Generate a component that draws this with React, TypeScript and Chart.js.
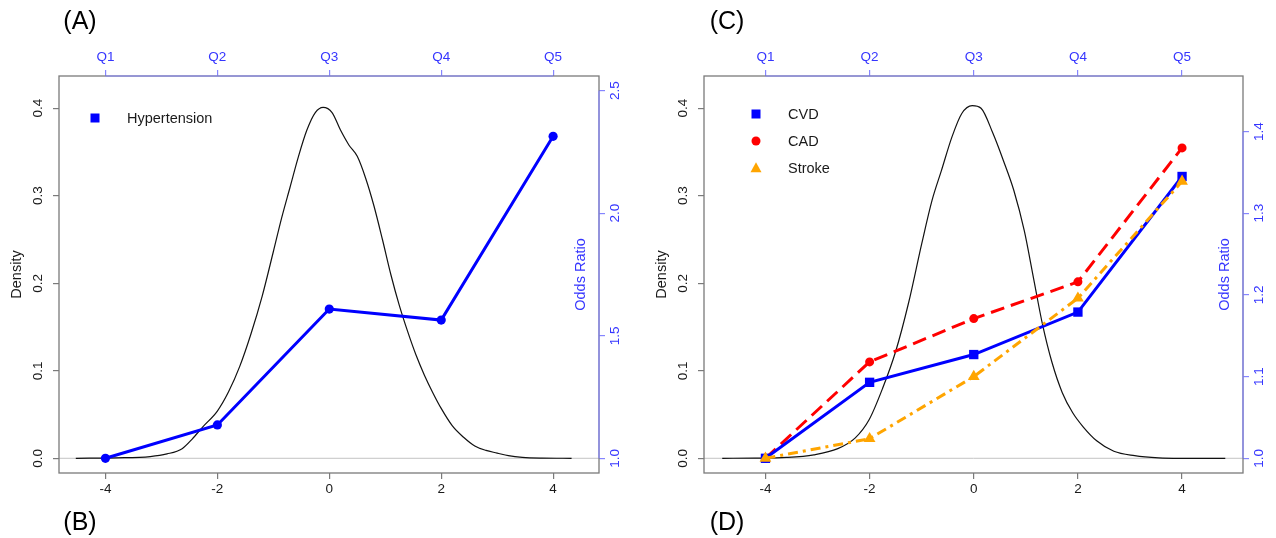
import React, { useEffect, useRef } from 'react';
import { Chart, registerables } from 'chart.js';

Chart.register(...registerables);

const FONT = '"Liberation Sans", Arial, Helvetica, sans-serif';
const AXIS_BLUE_TEXT = '#3535ff';
const AXIS_BLUE_LINE = '#8585ff';
const FRAME = '#7a7a7a';
const TICK_GREY = '#7a7a7a';
const TEXT = '#1a1a1a';

// ---- shared axes ----
const QUINTILE_LABELS = ['Q1', 'Q2', 'Q3', 'Q4', 'Q5'];
const QUINTILE_POS = [-4, -2, 0, 2, 4];
const X_TICKS = [-4, -2, 0, 2, 4];
const DENSITY_TICKS = [0, 0.1, 0.2, 0.3, 0.4];
const OR_TICKS_A = [1.0, 1.5, 2.0, 2.5];
const OR_TICKS_C = [1.0, 1.1, 1.2, 1.3, 1.4];

// ---- density curves ----
const DENS_A_X = [-4.53, -3.8, -3.2, -2.9, -2.63, -2.45, -2.26, -2.0, -1.8, -1.6, -1.4, -1.2, -1.0, -0.85, -0.7, -0.55, -0.4, -0.25, -0.11, 0.05, 0.2, 0.35, 0.5, 0.65, 0.8, 0.95, 1.1, 1.25, 1.4, 1.55, 1.7, 1.85, 2.0, 2.2, 2.4, 2.6, 2.8, 3.0, 3.2, 3.45, 3.8, 4.33];
const DENS_A_Y = [0, 0.0005, 0.002, 0.005, 0.011, 0.022, 0.036, 0.054, 0.076, 0.105, 0.142, 0.185, 0.236, 0.275, 0.31, 0.345, 0.375, 0.395, 0.401, 0.395, 0.375, 0.358, 0.345, 0.32, 0.288, 0.25, 0.21, 0.175, 0.145, 0.118, 0.095, 0.075, 0.057, 0.037, 0.024, 0.014, 0.009, 0.006, 0.003, 0.001, 0.0002, 0];

const DENS_C_X = [-4.83, -4.2, -3.6, -3.07, -2.61, -2.28, -2.01, -1.75, -1.5, -1.25, -1.0, -0.8, -0.62, -0.42, -0.23, -0.03, 0.14, 0.37, 0.57, 0.77, 0.97, 1.15, 1.32, 1.5, 1.7, 1.9, 2.1, 2.36, 2.69, 3.09, 3.55, 3.95, 4.83];
const DENS_C_Y = [0, 0.0002, 0.001, 0.004, 0.011, 0.023, 0.044, 0.08, 0.122, 0.178, 0.245, 0.295, 0.329, 0.367, 0.394, 0.403, 0.4, 0.371, 0.34, 0.306, 0.26, 0.205, 0.153, 0.11, 0.075, 0.052, 0.036, 0.02, 0.008, 0.003, 0.0005, 0, 0];

// ---- odds ratios by quintile ----
const OR_HYPERTENSION = [1.0, 1.136, 1.609, 1.564, 2.314];
const OR_CVD = [1.0, 1.093, 1.127, 1.179, 1.345];
const OR_CAD = [1.0, 1.118, 1.171, 1.216, 1.38];
const OR_STROKE = [1.0, 1.024, 1.1, 1.196, 1.339];

type Marker = 'rect' | 'circle' | 'triangle';

type Series = {
  label: string;
  values: number[];
  color: string;
  marker: Marker;
  radius: number;
  dash: number[];
  order: number;
  legendMarker: Marker;
  legendSize: number;
};

type PanelSpec = {
  width: number;
  areaLeft: number;
  areaRight: number;
  areaTop: number;
  areaBottom: number;
  xMin: number;
  xMax: number;
  dMin: number;
  dMax: number;
  orMin: number;
  orMax: number;
  orTicks: number[];
  densX: number[];
  densY: number[];
  series: Series[];
  legendDx: number;
  legendDy: number;
  legendGap: number;
  leftTickPad: number;
  rightTickPad: number;
  densTitlePad: number;
};

const HEIGHT = 538;

function drawMarker(ctx: CanvasRenderingContext2D, kind: Marker, x: number, y: number, size: number, color: string) {
  ctx.fillStyle = color;
  ctx.beginPath();
  if (kind === 'rect') {
    ctx.rect(x - size / 2, y - size / 2, size, size);
  } else if (kind === 'circle') {
    ctx.arc(x, y, size / 2, 0, Math.PI * 2);
  } else {
    const h = size * 0.9;
    ctx.moveTo(x, y - h * 0.58);
    ctx.lineTo(x + size / 2, y + h * 0.42);
    ctx.lineTo(x - size / 2, y + h * 0.42);
    ctx.closePath();
  }
  ctx.fill();
}

function makeFramePlugin(s: PanelSpec) {
  return {
    id: 'frame',
    beforeDatasetsDraw(chart: any) {
      const { ctx, chartArea: a, scales } = chart;
      const y0 = scales.yD.getPixelForValue(0);
      ctx.save();
      ctx.strokeStyle = '#c4c4c4';
      ctx.lineWidth = 1;
      ctx.beginPath();
      ctx.moveTo(a.left, y0);
      ctx.lineTo(a.right, y0);
      ctx.stroke();
      ctx.restore();
    },
    afterDraw(chart: any) {
      const { ctx, chartArea: a, scales } = chart;
      ctx.save();
      // frame box
      ctx.strokeStyle = FRAME;
      ctx.lineWidth = 1.3;
      ctx.strokeRect(a.left, a.top, a.right - a.left, a.bottom - a.top);
      // blue top axis line (Q1..Q5)
      const xq = scales.xq;
      ctx.strokeStyle = AXIS_BLUE_LINE;
      ctx.lineWidth = 1.2;
      ctx.beginPath();
      ctx.moveTo(xq.getPixelForValue(QUINTILE_POS[0]), a.top);
      ctx.lineTo(xq.getPixelForValue(QUINTILE_POS[QUINTILE_POS.length - 1]), a.top);
      ctx.stroke();
      // blue right axis line
      const yOR = scales.yOR;
      ctx.beginPath();
      ctx.moveTo(a.right, yOR.getPixelForValue(s.orTicks[0]));
      ctx.lineTo(a.right, yOR.getPixelForValue(s.orTicks[s.orTicks.length - 1]));
      ctx.stroke();
      // "Odds Ratio" title inside the frame, reading bottom to top
      ctx.translate(a.right - 18, (a.top + a.bottom) / 2);
      ctx.rotate(-Math.PI / 2);
      ctx.fillStyle = AXIS_BLUE_TEXT;
      ctx.font = `14.5px ${FONT}`;
      ctx.textAlign = 'center';
      ctx.textBaseline = 'middle';
      ctx.fillText('Odds Ratio', 0, 0);
      ctx.restore();

      // legend
      ctx.save();
      ctx.font = `14.5px ${FONT}`;
      ctx.textAlign = 'left';
      ctx.textBaseline = 'middle';
      s.series.forEach((ser, i) => {
        const mx = a.left + s.legendDx;
        const my = a.top + s.legendDy + i * s.legendGap;
        drawMarker(ctx, ser.legendMarker, mx, my, ser.legendSize, ser.color);
        ctx.fillStyle = TEXT;
        ctx.fillText(ser.label, mx + 32, my + 1);
      });
      ctx.restore();
    },
  };
}

function fixedTicks(values: number[]) {
  return (axis: any) => {
    axis.ticks = values.map((v) => ({ value: v }));
  };
}

function buildConfig(s: PanelSpec): any {
  const tickFont = { family: FONT, size: 13.5 };
  const datasets: any[] = s.series.map((ser) => ({
    label: ser.label,
    data: QUINTILE_POS.map((x, j) => ({ x, y: ser.values[j] })),
    xAxisID: 'x',
    yAxisID: 'yOR',
    borderColor: ser.color,
    backgroundColor: ser.color,
    borderWidth: 3,
    borderDash: ser.dash,
    borderCapStyle: 'butt',
    tension: 0,
    fill: false,
    pointStyle: ser.marker,
    pointRadius: ser.radius,
    pointBackgroundColor: ser.color,
    pointBorderColor: ser.color,
    pointBorderWidth: 0,
    order: ser.order,
  }));
  datasets.push({
    label: 'Density',
    data: s.densX.map((x, i) => ({ x, y: s.densY[i] })),
    xAxisID: 'x',
    yAxisID: 'yD',
    borderColor: '#111',
    borderWidth: 1.2,
    pointRadius: 0,
    tension: 0.3,
    cubicInterpolationMode: 'monotone',
    fill: false,
    order: 10,
  });

  const bottomH = HEIGHT - s.areaBottom;
  const rightW = s.width - s.areaRight;

  return {
    type: 'line',
    data: { datasets },
    plugins: [makeFramePlugin(s)],
    options: {
      animation: false,
      responsive: false,
      maintainAspectRatio: false,
      devicePixelRatio: 1,
      layout: { padding: 0 },
      events: [],
      plugins: { legend: { display: false }, tooltip: { enabled: false } },
      scales: {
        x: {
          type: 'linear',
          position: 'bottom',
          min: s.xMin,
          max: s.xMax,
          afterBuildTicks: fixedTicks(X_TICKS),
          afterFit: (ax: any) => {
            ax.height = bottomH;
          },
          ticks: {
            font: tickFont,
            color: TEXT,
            padding: 2,
            autoSkip: false,
            maxRotation: 0,
            callback: (v: any) => String(v),
          },
          grid: { drawOnChartArea: false, drawTicks: true, tickLength: 6, color: TICK_GREY, lineWidth: 1.2 },
          border: { display: false },
        },
        xq: {
          type: 'linear',
          position: 'top',
          min: s.xMin,
          max: s.xMax,
          afterBuildTicks: fixedTicks(QUINTILE_POS),
          afterFit: (ax: any) => {
            ax.height = s.areaTop;
          },
          ticks: {
            font: tickFont,
            color: AXIS_BLUE_TEXT,
            padding: 4.4,
            autoSkip: false,
            maxRotation: 0,
            callback: (v: any) => QUINTILE_LABELS[QUINTILE_POS.indexOf(Number(v))],
          },
          grid: { drawOnChartArea: false, drawTicks: true, tickLength: 6, color: AXIS_BLUE_LINE, lineWidth: 1.2 },
          border: { display: false },
        },
        yD: {
          type: 'linear',
          position: 'left',
          min: s.dMin,
          max: s.dMax,
          afterBuildTicks: fixedTicks(DENSITY_TICKS),
          afterFit: (ax: any) => {
            ax.width = s.areaLeft;
          },
          ticks: {
            font: tickFont,
            color: TEXT,
            padding: s.leftTickPad,
            minRotation: 90,
            maxRotation: 90,
            crossAlign: 'center',
            autoSkip: false,
            callback: (v: any) => Number(v).toFixed(1),
          },
          title: {
            display: true,
            text: 'Density',
            color: TEXT,
            font: { family: FONT, size: 14.5 },
            padding: { top: s.densTitlePad, bottom: 0 },
          },
          grid: { drawOnChartArea: false, drawTicks: true, tickLength: 6, color: TICK_GREY, lineWidth: 1.2 },
          border: { display: false },
        },
        yOR: {
          type: 'linear',
          position: 'right',
          min: s.orMin,
          max: s.orMax,
          afterBuildTicks: fixedTicks(s.orTicks),
          afterFit: (ax: any) => {
            ax.width = rightW;
          },
          ticks: {
            font: tickFont,
            color: AXIS_BLUE_TEXT,
            padding: s.rightTickPad,
            minRotation: 90,
            maxRotation: 90,
            crossAlign: 'center',
            autoSkip: false,
            callback: (v: any) => Number(v).toFixed(1),
          },
          grid: { drawOnChartArea: false, drawTicks: true, tickLength: 6, color: AXIS_BLUE_LINE, lineWidth: 1.2 },
          border: { display: false },
        },
      },
    },
  };
}

const PANEL_A: PanelSpec = {
  width: 640,
  areaLeft: 59,
  areaRight: 599,
  areaTop: 76,
  areaBottom: 473,
  xMin: -4.83,
  xMax: 4.82,
  dMin: -0.0168,
  dMax: 0.4368,
  orMin: 0.94,
  orMax: 2.56,
  orTicks: OR_TICKS_A,
  densX: DENS_A_X,
  densY: DENS_A_Y,
  series: [
    {
      label: 'Hypertension',
      values: OR_HYPERTENSION,
      color: '#0000ff',
      marker: 'circle',
      radius: 4.6,
      dash: [],
      order: 1,
      legendMarker: 'rect',
      legendSize: 9,
    },
  ],
  legendDx: 36,
  legendDy: 42,
  legendGap: 27,
  leftTickPad: 5.3,
  rightTickPad: 1,
  densTitlePad: 8.6,
};

const PANEL_C: PanelSpec = {
  width: 636,
  areaLeft: 64,
  areaRight: 603,
  areaTop: 76,
  areaBottom: 473,
  xMin: -5.18,
  xMax: 5.17,
  dMin: -0.0168,
  dMax: 0.4368,
  orMin: 0.982,
  orMax: 1.468,
  orTicks: OR_TICKS_C,
  densX: DENS_C_X,
  densY: DENS_C_Y,
  series: [
    {
      label: 'CVD',
      values: OR_CVD,
      color: '#0000ff',
      marker: 'rect',
      radius: 6.6,
      dash: [],
      order: 2,
      legendMarker: 'rect',
      legendSize: 9,
    },
    {
      label: 'CAD',
      values: OR_CAD,
      color: '#ff0000',
      marker: 'circle',
      radius: 4.5,
      dash: [14, 7],
      order: 3,
      legendMarker: 'circle',
      legendSize: 9,
    },
    {
      label: 'Stroke',
      values: OR_STROKE,
      color: '#ffa500',
      marker: 'triangle',
      radius: 6.8,
      dash: [10, 5, 3, 5],
      order: 1,
      legendMarker: 'triangle',
      legendSize: 11,
    },
  ],
  legendDx: 52,
  legendDy: 38,
  legendGap: 27,
  leftTickPad: 5.6,
  rightTickPad: 1,
  densTitlePad: 13,
};

function Panel({ spec, left }: { spec: PanelSpec; left: number }) {
  const ref = useRef<HTMLCanvasElement>(null);
  useEffect(() => {
    const chart = new Chart(ref.current as HTMLCanvasElement, buildConfig(spec));
    return () => chart.destroy();
  }, [spec]);
  return (
    <canvas
      ref={ref}
      width={spec.width}
      height={HEIGHT}
      style={{ position: 'absolute', left, top: 0, width: spec.width, height: HEIGHT, display: 'block' }}
    />
  );
}

const PANEL_LETTERS = [
  { text: '(A)', x: 80, y: 20 },
  { text: '(B)', x: 80, y: 521 },
  { text: '(C)', x: 727, y: 20 },
  { text: '(D)', x: 727, y: 521 },
];

export default function App() {
  return (
    <div
      style={{
        position: 'fixed',
        left: 0,
        top: 0,
        width: 1276,
        height: HEIGHT,
        background: '#ffffff',
        overflow: 'hidden',
      }}
    >
      <Panel spec={PANEL_A} left={0} />
      <Panel spec={PANEL_C} left={640} />
      {PANEL_LETTERS.map((p) => (
        <div
          key={p.text}
          style={{
            position: 'absolute',
            left: p.x,
            top: p.y,
            transform: 'translate(-50%, -50%)',
            fontFamily: FONT,
            fontSize: 25,
            lineHeight: 1,
            color: '#000',
            whiteSpace: 'nowrap',
          }}
        >
          {p.text}
        </div>
      ))}
    </div>
  );
}
